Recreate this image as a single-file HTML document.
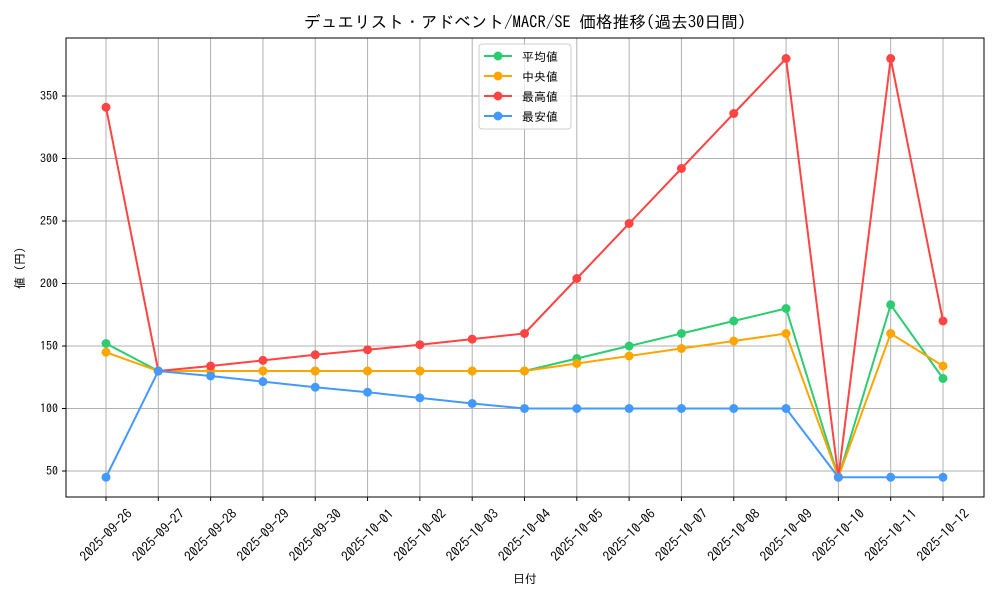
<!DOCTYPE html>
<html><head><meta charset="utf-8"><style>
body{margin:0;background:#fff;}
svg text{font-family:"IPAGothic","Noto Sans CJK JP",sans-serif;fill:#000;}
</style></head><body>
<svg width="1000" height="600" xmlns="http://www.w3.org/2000/svg">
<rect width="1000" height="600" fill="#fff"/>
<g id="grid" stroke="#b0b0b0" stroke-width="1"></g>
<rect x="66" y="38" width="918" height="459" fill="none" stroke="#000" stroke-width="1"/>
<g id="ticks"></g>
<g id="series"></g>
<text x="525" y="28" font-size="16.7" text-anchor="middle">デュエリスト・アドベント/MACR/SE 価格推移(過去30日間)</text>
<text x="525" y="583" font-size="12" text-anchor="middle">日付</text>
<text transform="translate(24,268) rotate(-90)" font-size="12" text-anchor="middle">値 (円)</text>
<g>
<rect x="479" y="44" width="92" height="85" fill="#fff" fill-opacity="0.8" stroke="#ccc" rx="3"/>
<line x1="484" y1="56" x2="512" y2="56" stroke="#2ecc71" stroke-width="2"/><circle cx="498" cy="56" r="4.5" fill="#2ecc71"/><text x="522" y="61" font-size="12">平均値</text>
<line x1="484" y1="76" x2="512" y2="76" stroke="#ffa500" stroke-width="2"/><circle cx="498" cy="76" r="4.5" fill="#ffa500"/><text x="522" y="81" font-size="12">中央値</text>
<line x1="484" y1="96" x2="512" y2="96" stroke="#ff4444" stroke-width="2"/><circle cx="498" cy="96" r="4.5" fill="#ff4444"/><text x="522" y="101" font-size="12">最高値</text>
<line x1="484" y1="116" x2="512" y2="116" stroke="#4499ff" stroke-width="2"/><circle cx="498" cy="116" r="4.5" fill="#4499ff"/><text x="522" y="121" font-size="12">最安値</text>
</g>
</svg>
<script>
const ns="http://www.w3.org/2000/svg";
const X=i=>106+i*52.3125, Y=v=>471-(v-50)*1.25;
const dates=["2025-09-26","2025-09-27","2025-09-28","2025-09-29","2025-09-30","2025-10-01","2025-10-02","2025-10-03","2025-10-04","2025-10-05","2025-10-06","2025-10-07","2025-10-08","2025-10-09","2025-10-10","2025-10-11","2025-10-12"];
function el(t,a,p,txt){const e=document.createElementNS(ns,t);for(const k in a)e.setAttribute(k,a[k]);if(txt)e.textContent=txt;p.appendChild(e);return e;}
const g=document.getElementById("grid"),tk=document.getElementById("ticks"),s=document.getElementById("series");
dates.forEach((d,i)=>{const x=X(i);el("line",{x1:x,x2:x,y1:38,y2:497},g);el("line",{x1:x,x2:x,y1:497,y2:501,stroke:"#000"},tk);
el("text",{x:0,y:0,dy:"0.35em","font-size":13.4,"text-anchor":"middle",transform:`translate(${x},${535}) rotate(-45)`},tk,d);});
[50,100,150,200,250,300,350].forEach(v=>{const y=Y(v);el("line",{x1:66,x2:984,y1:y,y2:y},g);el("line",{x1:62,x2:66,y1:y,y2:y,stroke:"#000"},tk);
el("text",{x:58,y:y+4,"font-size":12,"text-anchor":"end"},tk,v);});
const data=[
["#ff4444",[341,130,134,138.5,143,147,151,155.5,160,204,248,292,336,380,45,380,170]],
["#4499ff",[45,130,126,121.5,117,113,108.5,104,100,100,100,100,100,100,45,45,45]],
["#ffa500",[145,130,130,130,130,130,130,130,130,136,142,148,154,160,45,160,134]],
["#2ecc71",[152,130,130,130,130,130,130,130,130,140,150,160,170,180,45,183,124]]];
[data[3],data[2],data[0],data[1]].forEach(([c,vs])=>{el("polyline",{points:vs.map((v,i)=>X(i)+","+Y(v)).join(" "),fill:"none",stroke:c,"stroke-width":2},s);
vs.forEach((v,i)=>el("circle",{cx:X(i),cy:Y(v),r:4.5,fill:c},s));});
</script>
</body></html>
